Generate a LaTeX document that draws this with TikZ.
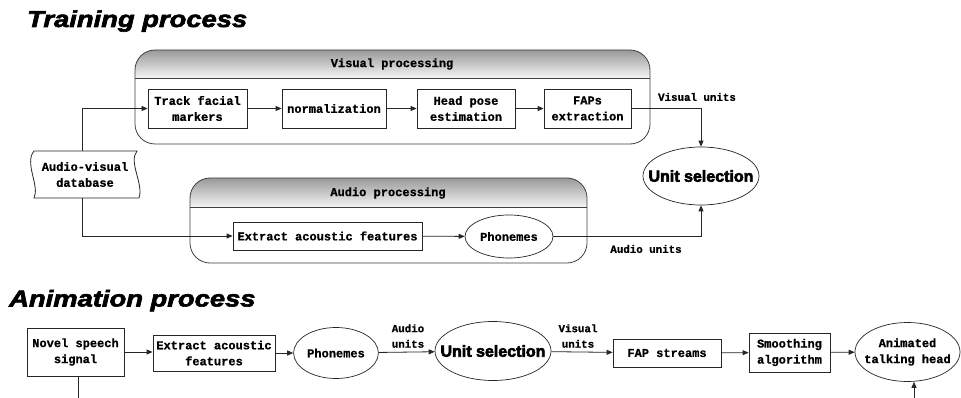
\documentclass[tikz,border=0pt]{standalone}
\usepackage{fontspec}
\usepackage{graphicx}
\usetikzlibrary{arrows.meta,shapes.geometric,calc}
\setmainfont{Liberation Mono}
\newfontfamily\mymono{Liberation Mono}[FakeBold=0.8]
\newfontfamily\mytitle{Liberation Sans}[FakeBold=2.5]
\newfontfamily\myheavy{Liberation Sans}[FakeBold=3.5]
\newcommand\bxfont{\mymono\bfseries\fontsize{12}{16}\selectfont}
\newcommand\lbfont{\mymono\bfseries\fontsize{10.8}{15.5}\selectfont}
\newcommand\ttlfont{\mytitle\bfseries\itshape\fontsize{23}{26}\selectfont}
\newcommand\usfont{\myheavy\bfseries\fontsize{16}{18}\selectfont}
\newcommand\fitbox[1]{\makebox[60pt][c]{#1}}
\tikzset{
  line/.style={line width=0.8pt, draw=black!85},
  arr/.style={line, -{Triangle[length=6pt,width=5pt]}},
  box/.style={draw=black!85, line width=0.8pt, fill=white, inner sep=0pt, align=center, font=\bxfont},
  ell/.style={ellipse, draw=black!85, line width=0.7pt, fill=white, inner sep=0pt, align=center, font=\bxfont},
  frame/.style={draw=black!75, line width=0.8pt},
  lbl/.style={inner sep=0pt, align=center, font=\lbfont},
  hdr/.style={inner sep=0pt, font=\bxfont},
  ttl/.style={inner sep=0pt, anchor=base west, font=\ttlfont},
}
\begin{document}
\begin{tikzpicture}[x=1pt,y=-1pt]
\useasboundingbox (0,0) rectangle (961,398);
\fill[white] (0,0) rectangle (961,398);

% titles
\node[ttl] (t1) at (27,27) {\scalebox{1.19}[1]{Training process}};
\node[ttl] (t2) at (9,306.5) {\scalebox{1.19}[1]{Animation process}};

% visual processing container
\begin{scope}
\clip[rounded corners=20pt] (135,50) rectangle (650,144);
\shade[top color=black!40, bottom color=black!4] (135,50) rectangle (650,78);
\end{scope}
\draw[frame, rounded corners=20pt] (135,50) rectangle (650,144);
\draw[frame] (135,78) -- (650,78);
\node[hdr] (vp) at (392,64) {Visual processing};

% audio processing container
\begin{scope}
\clip[rounded corners=20pt] (190,178) rectangle (587,263);
\shade[top color=black!40, bottom color=black!4] (190,178) rectangle (587,207);
\end{scope}
\draw[frame, rounded corners=20pt] (190,178) rectangle (587,263);
\draw[frame] (190,207) -- (587,207);
\node[hdr] (ap) at (388,193) {Audio processing};

% database (tape-like shape)
\draw[line, fill=white] (34,151) -- (137,151)
  .. controls (128,162) and (144,184) .. (139,198)
  -- (34,198)
  .. controls (40,186) and (24,163) .. (34,151) -- cycle;
\node[inner sep=0pt, align=center, font=\bxfont] (db) at (85,174.5) {Audio-visual\\database};
\coordinate (dbtop) at (82,151);
\coordinate (dbbot) at (82,198);

% visual row
\node[box, minimum width=99pt, minimum height=39pt] (tfm) at (197.5,108.5) {Track facial\\markers};
\node[box, minimum width=104pt, minimum height=39pt] (norm) at (334,108.5) {normalization};
\node[box, minimum width=98pt, minimum height=39pt] (hpe) at (466,108.5) {Head pose\\estimation};
\node[box, minimum width=87pt, minimum height=39pt] (fap) at (587.5,108.5) {FAPs\\extraction};

% unit selection (training)
\node[ell, minimum width=116pt, minimum height=58pt, font=\usfont] (us1) at (701,176) {\fitbox{Unit selection}};

% audio row
\node[box, minimum width=189pt, minimum height=28pt] (eaf) at (327.5,236) {Extract acoustic features};
\node[ell, minimum width=88pt, minimum height=43pt] (ph1) at (509,236.5) {\fitbox{Phonemes}};

% labels
\node[lbl] (vu1) at (697,97) {Visual units};
\node[lbl] (au1) at (646,249) {Audio units};

% training connectors
\draw[arr] (dbtop) |- (tfm.west);
\draw[arr] (dbbot) |- (eaf.west);
\draw[arr] (tfm) -- (norm);
\draw[arr] (norm) -- (hpe);
\draw[arr] (hpe) -- (fap);
\draw[arr] (fap.east) -| (us1.north);
\draw[arr] (eaf) -- (ph1);
\draw[arr] (ph1.east) -| (us1.south);

% animation row
\node[box, minimum width=97pt, minimum height=48pt] (nss) at (75.5,352) {Novel speech\\signal};
\node[box, minimum width=122pt, minimum height=36pt] (eaf2) at (214,353) {Extract acoustic\\features};
\node[ell, minimum width=82pt, minimum height=51pt] (ph2) at (336,353) {\fitbox{Phonemes}};
\node[ell, minimum width=116pt, minimum height=59pt, font=\usfont] (us2) at (493,351) {\fitbox{Unit selection}};
\node[box, minimum width=108pt, minimum height=28pt] (fs) at (667,353) {FAP streams};
\node[box, minimum width=81pt, minimum height=39pt] (sa) at (789.5,352.5) {Smoothing\\algorithm};
\node[ell, minimum width=105pt, minimum height=59pt] (ath) at (907.5,352) {\fitbox{Animated}\\\fitbox{talking head}};

\node[lbl, anchor=south] (au2) at (408,348) {Audio\\units};
\node[lbl, anchor=south] (vu2) at (578,348) {Visual\\units};

\coordinate (c1) at (78,398);
\coordinate (c2) at (914,398);

\draw[arr] (nss.east) -- (nss.east -| eaf2.west);
\draw[arr] (eaf2.east) -- (eaf2.east -| ph2.west);
\draw[arr] (ph2) -- (us2);
\draw[arr] (us2) -- (fs);
\draw[arr] (fs) -- (sa);
\draw[arr] (sa) -- (ath);
\draw[line] (c1 |- nss.south) -- (c1);
\draw[arr] (c2) -- (c2 |- ath.south);
\end{tikzpicture}
\end{document}
